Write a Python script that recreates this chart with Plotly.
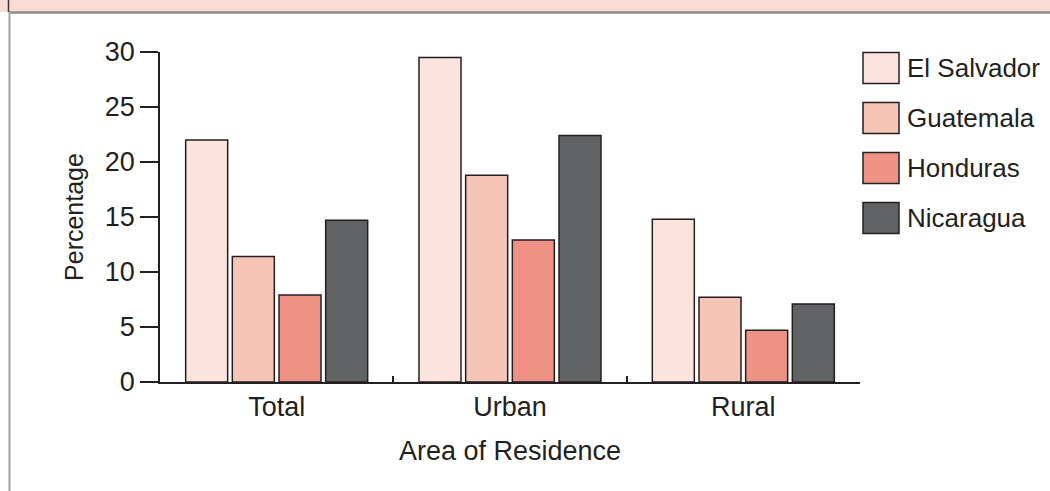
import plotly.graph_objects as go

# Percentage by area of residence, per country
areas = ["Total", "Urban", "Rural"]
countries = ["El Salvador", "Guatemala", "Honduras", "Nicaragua"]
el_salvador = [22.0, 29.5, 14.8]
guatemala = [11.4, 18.8, 7.7]
honduras = [7.9, 12.9, 4.7]
nicaragua = [14.7, 22.4, 7.1]
y_ticks = [0, 5, 10, 15, 20, 25, 30]

series = [el_salvador, guatemala, honduras, nicaragua]
colors = ["#FCE4DE", "#F7C5B8", "#EF9185", "#616264"]
ink = "#231F20"
font_family = "Liberation Sans, Arial, sans-serif"
fs = 26

W, H = 1050, 491
L, R, T, B = 160, 190, 52, 109
pw, ph = W - L - R, H - T - B


def px_x(px):
    return (px - L) / pw


def px_y(py):
    return (H - B - py) / ph


fig = go.Figure()
for name, vals, col in zip(countries, series, colors):
    fig.add_trace(go.Bar(
        x=areas, y=vals, name=name,
        marker=dict(color=col, line=dict(color=ink, width=1.5)),
        showlegend=False,
    ))

shapes = []
annotations = []

# legend drawn as large swatches with labels
for i, (name, col) in enumerate(zip(countries, colors)):
    top = 52.5 + i * 50
    shapes.append(dict(type="rect", xref="paper", yref="paper",
                       x0=px_x(863), x1=px_x(899), y0=px_y(top + 31), y1=px_y(top),
                       fillcolor=col, line=dict(color=ink, width=1.5)))
    annotations.append(dict(xref="paper", yref="paper", x=px_x(905), y=px_y(top + 15.5),
                            text=name, showarrow=False, xanchor="left", yanchor="middle",
                            font=dict(size=fs, color=ink, family=font_family)))

# header band and frame
shapes.append(dict(type="rect", xref="paper", yref="paper",
                   x0=px_x(0), x1=px_x(W), y0=px_y(12), y1=px_y(-2),
                   fillcolor="#F9DCD3", line=dict(width=0), layer="below"))
shapes.append(dict(type="line", xref="paper", yref="paper",
                   x0=px_x(9), x1=px_x(W), y0=px_y(12.5), y1=px_y(12.5),
                   line=dict(color="#8C8C8C", width=2.5)))
shapes.append(dict(type="line", xref="paper", yref="paper",
                   x0=px_x(9.5), x1=px_x(9.5), y0=px_y(12), y1=px_y(H + 2),
                   line=dict(color="#A2A2A2", width=2)))
shapes.append(dict(type="line", xref="paper", yref="paper",
                   x0=px_x(8.5), x1=px_x(8.5), y0=px_y(-2), y1=px_y(12),
                   line=dict(color="#3A3A3A", width=1.5)))

fig.update_layout(
    width=W, height=H,
    margin=dict(l=L, r=R, t=T, b=B),
    paper_bgcolor="white", plot_bgcolor="white",
    barmode="group", bargap=0.2, bargroupgap=0.1,
    font=dict(family=font_family, size=fs, color=ink),
    shapes=shapes, annotations=annotations,
    xaxis=dict(
        type="category", showline=True, linecolor=ink, linewidth=1.5,
        ticks="inside", ticklen=6, tickwidth=1.5, tickcolor=ink,
        tickson="boundaries", showgrid=False,
        title=dict(text="Area of Residence", standoff=20, font=dict(size=27)),
        tickfont=dict(size=27),
    ),
    yaxis=dict(
        range=[0, 30], tickvals=y_ticks, showline=True, linecolor=ink, linewidth=1.5,
        ticks="outside", ticklen=18, tickwidth=1.5, tickcolor=ink,
        showgrid=False, zeroline=False,
        title=dict(text="Percentage", standoff=14, font=dict(size=25)),
        tickfont=dict(size=27),
    ),
)

fig.write_html("out.html")
